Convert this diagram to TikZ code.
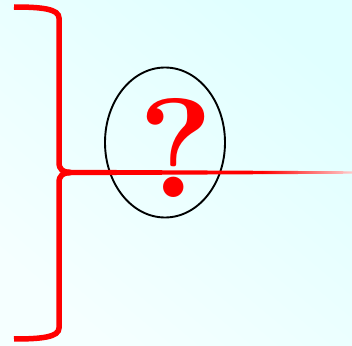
\documentclass[tikz,border=0pt]{standalone}
\usepackage{tikz}
\usetikzlibrary{calc,positioning,shapes.geometric}

\tikzset{
  bracket/.style={red, line width=5.5bp, line cap=butt},
  oval/.style={draw=black, ellipse, line width=1.9bp, minimum width=120bp, minimum height=150bp, inner sep=0pt},
}

\begin{document}
\begin{tikzpicture}[x=1bp, y=1bp]
% --- sfondo ---
\shade[top color=cyan!12, bottom color=cyan!4, shading angle=-40] (0,0) rectangle (352,346);
\useasboundingbox (0,0) rectangle (352,346);
% --- ellisse e punto di domanda ---
\node[oval] (circ) at (165,203.5) {};
\node[red, inner sep=0pt, font=\fontsize{142}{142}\selectfont\bfseries] (quest) at (176.5,198) {?};
% --- graffa ---
\coordinate (tip) at (70,173.5);
\coordinate (fadestart) at (262,173.5);
\coordinate (farend) at (352,173.5);
\draw[bracket] (14,339) .. controls (42,339) and (59,337) .. (59,328) -- (59,184) .. controls (59,176) and (63,174) .. (tip);
\draw[bracket] (14,7) .. controls (42,7) and (59,9) .. (59,18) -- (59,163) .. controls (59,171) and (63,173) .. (tip);
% --- linea che si assottiglia ---
\fill[red] ($(tip)+(-8,2.8)$) -- ($(fadestart)+(0,1.7)$) -- ($(fadestart)+(0,-1.7)$) -- ($(tip)+(-8,-2.8)$) -- cycle;
\shade[left color=red, right color=red!20]
  ($(fadestart)+(0,1.7)$) -- ($(farend)+(0,1.2)$) -- ($(farend)+(0,-1.2)$) -- ($(fadestart)+(0,-1.7)$) -- cycle;
\end{tikzpicture}
\end{document}
